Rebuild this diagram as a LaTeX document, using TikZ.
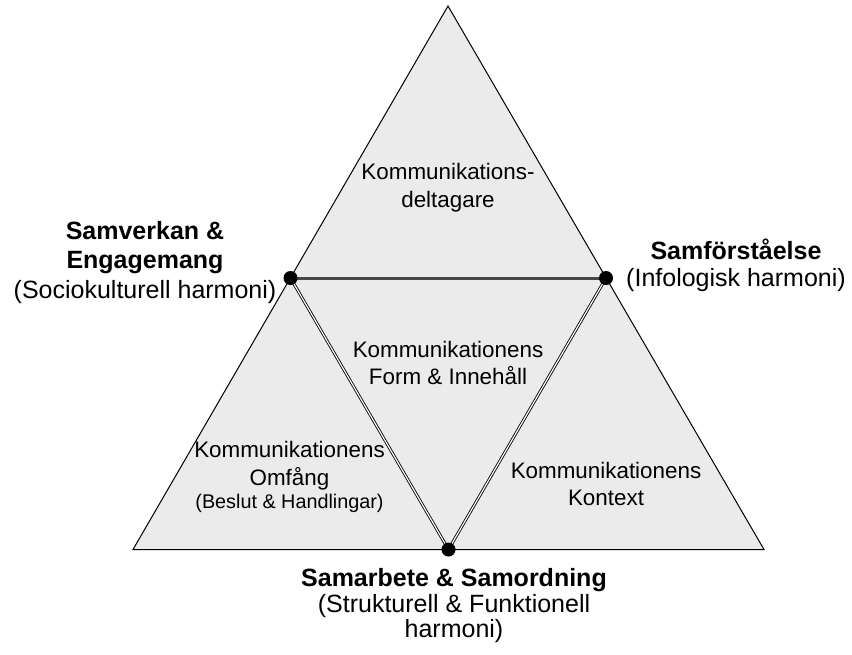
\documentclass[tikz,border=0pt]{standalone}
\usepackage{fontspec}
\setmainfont{Liberation Sans}
\begin{document}
\begin{tikzpicture}[x=1pt,y=-1pt,
  outer/.style={draw=black, line width=1pt, fill=black!8, line join=miter},
  seam/.style={draw=black, double=white, double distance=1.2pt, line width=0.85pt},
  ridge/.style={draw=black!72, line width=3pt},
  vertex/.style={circle, fill=black, inner sep=0pt, minimum size=14pt},
  inner/.style={align=center, inner sep=0pt, font=\fontsize{22.4}{27.5}\selectfont},
  corner/.style={align=center, inner sep=0pt},
]
\useasboundingbox (0,0) rectangle (852,654);

% corners of the big triangle and the midpoints of its sides
\coordinate (top) at (448,6);
\coordinate (bl) at (133,549.5);
\coordinate (br) at (764,549.5);
\coordinate (ml) at (290.5,278);
\coordinate (mr) at (606,278);
\coordinate (mb) at (448.5,549.5);

\draw[outer] (top) -- (bl) -- (br) -- cycle;

% inner triangle
\draw[ridge] (ml) -- (mr);
\draw[seam] (ml) -- (mb);
\draw[seam] (mr) -- (mb);

\node[vertex] (dl) at (ml) {};
\node[vertex] (dr) at (mr) {};
\node[vertex] (db) at (mb) {};

% texts inside the four sub-triangles
\node[inner] (deltagare) at (448,187.5) {Kommunikations-\\deltagare};
\node[inner] (form) at (448,363) {Kommunikationens\\Form \& Innehåll};
\node[inner] (omfang) at (289.5,477) {Kommunikationens\\Omfång\\[-4pt]{\fontsize{19.8}{23}\selectfont (Beslut \& Handlingar)}};
\node[inner] (kontext) at (606,484) {Kommunikationens\\Kontext};

% labels at the three midpoints
\node[corner, font=\fontsize{25}{29.5}\selectfont] (samverkan) at (145,262.5)
  {\textbf{Samverkan \&}\\\textbf{Engagemang}\\(Sociokulturell harmoni)};
\node[corner, font=\fontsize{25}{27}\selectfont] (samforstaelse) at (736,265)
  {\textbf{Samförståelse}\\(Infologisk harmoni)};
\node[corner, font=\fontsize{25}{25.5}\selectfont] (samarbete) at (454,606)
  {\textbf{Samarbete \& Samordning}\\(Strukturell \& Funktionell\\harmoni)};
\end{tikzpicture}
\end{document}
